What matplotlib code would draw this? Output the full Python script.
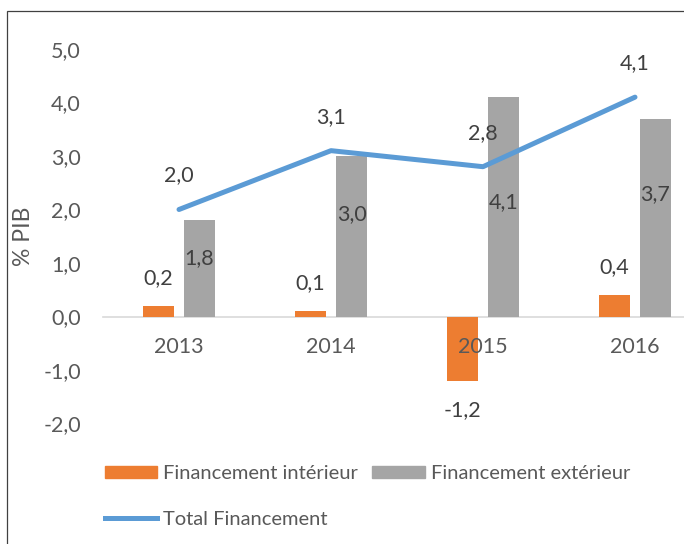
import matplotlib.pyplot as plt
import numpy as np
from matplotlib.patches import Patch, Rectangle
from matplotlib.lines import Line2D

plt.rcParams['font.family'] = ['Lato', 'DejaVu Sans']

# Données (% PIB)
annees = ['2013', '2014', '2015', '2016']
fin_interieur = [0.2, 0.1, -1.2, 0.4]
fin_exterieur = [1.8, 3.0, 4.1, 3.7]
total_fin = [2.0, 3.1, 2.8, 4.1]
# hauteur des étiquettes dans les barres grises
ext_label_y = [1.09, 1.91, 2.13, 2.28]

orange = '#ED7D31'
gris = '#A5A5A5'
bleu = '#5B9BD5'
texte = '#404040'
tick_col = '#595959'
fs = 15.5


def fr(v):
    return f"{v:.1f}".replace('.', ',')


fig = plt.figure(figsize=(6.84, 5.44), dpi=100)
ax = fig.add_axes([103 / 684, 120.5 / 544, 608 / 684, 374.5 / 544])

x = np.arange(len(annees))
w = 0.21
off = 0.135
ax.bar(x - off, fin_interieur, w, color=orange, zorder=2)
ax.bar(x + off, fin_exterieur, w, color=gris, zorder=2)
ax.plot(x, total_fin, color=bleu, lw=3.6, solid_capstyle='round', zorder=3)

# étiquettes
for i in range(len(annees)):
    ax.annotate(fr(total_fin[i]), (x[i], total_fin[i]), xytext=(0, 34),
                textcoords='offset pixels', ha='center', va='center',
                fontsize=fs, color=texte)
    v = fin_interieur[i]
    ax.annotate(fr(v), (x[i] - off, v), xytext=(0, 28 if v >= 0 else -29),
                textcoords='offset pixels', ha='center', va='center',
                fontsize=fs, color=texte)
    ax.text(x[i] + off, ext_label_y[i], fr(fin_exterieur[i]), ha='center',
            va='center', fontsize=fs, color=texte, zorder=4)

ax.set_xlim(-0.5, 3.5)
ax.set_ylim(-2, 5)
ax.set_yticks(np.arange(-2, 6, 1))
ax.set_yticklabels([fr(v) for v in np.arange(-2, 6, 1)])
ax.set_xticks(x)
ax.set_xticklabels(annees)
ax.tick_params(axis='both', length=0, labelsize=fs, labelcolor=tick_col)
ax.tick_params(axis='y', pad=16)
ax.tick_params(axis='x', pad=15)
ax.xaxis.set_zorder(2.6)
for s in ['top', 'right', 'left']:
    ax.spines[s].set_visible(False)
ax.spines['bottom'].set_position(('data', 0))
ax.spines['bottom'].set_color('#D9D9D9')
ax.spines['bottom'].set_linewidth(1.2)
ax.spines['bottom'].set_zorder(1.8)
ax.set_ylabel('% PIB', fontsize=fs + 1, color=tick_col)
ax.yaxis.set_label_coords(-0.113, 0.5)

handles = [Patch(color=orange), Line2D([], [], color=bleu, lw=3.6),
           Patch(color=gris)]
labels = ['Financement intérieur', 'Total Financement', 'Financement extérieur']
fig.legend(handles, labels, loc='upper left', bbox_to_anchor=(105 / 684, 1 - 465 / 544),
           ncol=2, frameon=False, fontsize=14.5, labelcolor=tick_col,
           handlelength=2.6, handleheight=0.6, handletextpad=0.3,
           columnspacing=0.7, labelspacing=1.45, borderpad=0, borderaxespad=0)

fig.patches.append(Rectangle((7 / 684, -0.1), 2, 1.1 - 11 / 544, transform=fig.transFigure,
                             fill=False, edgecolor='#404040', lw=0.9))

fig.savefig('out.png', dpi=100)
